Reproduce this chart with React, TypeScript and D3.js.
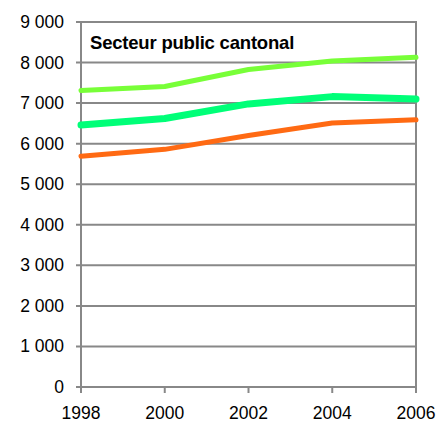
import { useRef, useEffect } from 'react';
import * as d3 from 'd3';

const years = [1998, 2000, 2002, 2004, 2006];
const lightGreen = [7310, 7410, 7830, 8040, 8130];
const brightGreen = [6460, 6620, 6980, 7160, 7100];
const orange = [5690, 5860, 6200, 6510, 6590];
const yTicks = [0, 1000, 2000, 3000, 4000, 5000, 6000, 7000, 8000, 9000];
const title = 'Secteur public cantonal';

export default function App() {
  const svgRef = useRef<SVGSVGElement | null>(null);

  useEffect(() => {
    if (!svgRef.current) return;
    d3.select(svgRef.current).selectAll('*').remove();

    const svg = d3.select(svgRef.current);
    const left = 81, right = 416, top = 22, bottom = 387;
    const grey = '#888888';
    const font = 'Liberation Sans, Arial, sans-serif';

    const x = d3.scaleLinear().domain([1998, 2006]).range([left, right]);
    const y = d3.scaleLinear().domain([0, 9000]).range([bottom, top]);

    // gridlines
    svg.append('g')
      .selectAll('line')
      .data(yTicks)
      .enter()
      .append('line')
      .attr('x1', left - 5)
      .attr('x2', right)
      .attr('y1', d => y(d))
      .attr('y2', d => y(d))
      .attr('stroke', grey)
      .attr('stroke-width', 2);

    // y labels
    svg.append('g')
      .selectAll('text')
      .data(yTicks)
      .enter()
      .append('text')
      .attr('x', 64)
      .attr('y', d => y(d) + 6)
      .attr('text-anchor', 'end')
      .style('font-family', font)
      .style('font-size', '17.5px')
      .attr('fill', '#000')
      .text(d => d3.format(',')(d).replace(/,/g, ' '));

    // axes frame
    svg.append('line')
      .attr('x1', left).attr('x2', left)
      .attr('y1', top).attr('y2', bottom + 5)
      .attr('stroke', grey).attr('stroke-width', 2);
    svg.append('line')
      .attr('x1', right).attr('x2', right)
      .attr('y1', top - 1).attr('y2', bottom)
      .attr('stroke', grey).attr('stroke-width', 2);

    // x ticks + labels
    const xg = svg.append('g');
    years.forEach(yr => {
      xg.append('line')
        .attr('x1', x(yr)).attr('x2', x(yr))
        .attr('y1', bottom).attr('y2', bottom + 6)
        .attr('stroke', grey).attr('stroke-width', 2);
      xg.append('text')
        .attr('x', x(yr))
        .attr('y', 419)
        .attr('text-anchor', 'middle')
        .style('font-family', font)
        .style('font-size', '17.5px')
        .attr('fill', '#000')
        .text(String(yr));
    });

    // title box
    svg.append('rect')
      .attr('x', left + 2).attr('y', top + 2)
      .attr('width', 225).attr('height', 36)
      .attr('fill', '#fff');
    svg.append('text')
      .attr('x', 90)
      .attr('y', 49)
      .style('font-family', font)
      .style('font-size', '18.5px')
      .style('font-weight', 'bold')
      .style('letter-spacing', '-0.2px')
      .attr('fill', '#000')
      .text(title);

    const line = d3.line<number>()
      .x((_, i) => x(years[i]))
      .y(d => y(d));

    const series = [
      { values: orange, color: '#FF6A13', width: 5 },
      { values: brightGreen, color: '#00FF78', width: 7 },
      { values: lightGreen, color: '#78FF38', width: 5 },
    ];
    series.forEach(s => {
      svg.append('path')
        .datum(s.values)
        .attr('d', line)
        .attr('fill', 'none')
        .attr('stroke', s.color)
        .attr('stroke-width', s.width)
        .attr('stroke-linejoin', 'round')
        .attr('stroke-linecap', 'round');
    });
  }, []);

  return (
    <svg
      ref={svgRef}
      width={439}
      height={424}
      style={{ position: 'absolute', left: 0, top: 0, background: '#fff' }}
    />
  );
}
